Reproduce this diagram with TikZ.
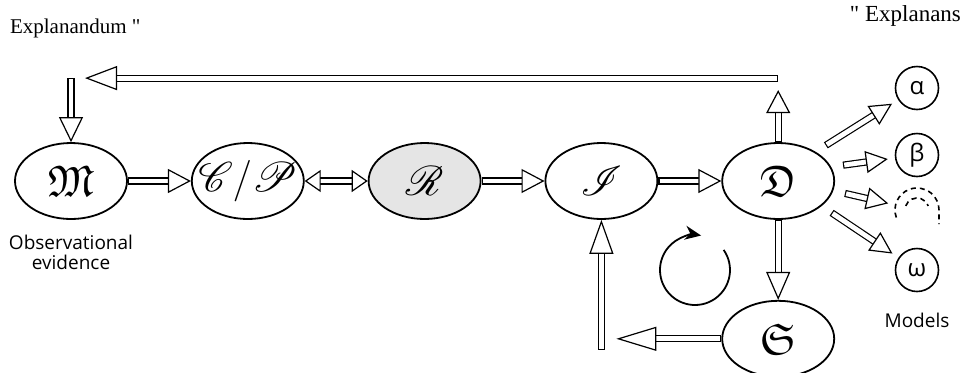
\documentclass[tikz,border=0pt]{standalone}
\usepackage{amsmath,amssymb}
\usepackage{mathrsfs}
\usepackage{fontspec}
\setmainfont{Liberation Serif}
\setsansfont{Open Sans}
\usepackage{tikz}
\usetikzlibrary{positioning,shapes.geometric,arrows.meta,calc}

\begin{document}
\begin{tikzpicture}[
  x=0.5pt, y=0.5pt,
  every node/.style={font=\fontsize{10.5}{12}\selectfont},
  ell/.style={draw, ellipse, line width=0.9pt,
              minimum width=56pt, minimum height=38pt, inner sep=0pt,
              font=\fontsize{22}{22}\selectfont},
  grk/.style={draw, circle, line width=0.8pt, minimum size=21.5pt,
              inner sep=0pt, outer sep=4pt,
              font=\sffamily\fontsize{12}{12}\selectfont},
  lbl/.style={font=\sffamily\fontsize{9.5}{10}\selectfont, align=center},
  hol/.style={draw=white, line width=2.4pt, shorten <=0.6pt,
              -{Triangle[color=black, fill=white, line width=0.6pt 0 0,
                         length=#1, width=12pt]},
              preaction={draw=black, line width=3.6pt, -,
                         shorten <=0pt, shorten >=#1-1pt}},
  hol/.default=11.5pt,
  holf/.style={draw=white, line width=2.4pt, shorten <=6.6pt,
              -{Triangle[color=black, fill=white, line width=0.6pt 0 0,
                         length=11pt, width=11pt]},
              preaction={draw=black, line width=3.6pt, -,
                         shorten <=6pt, shorten >=10pt}},
  hol2/.style={draw=white, line width=2.4pt,
              {Triangle[color=black, fill=white, line width=0.6pt 0 0,
                        length=#1, width=11pt]}-{Triangle[color=black,
                        fill=white, line width=0.6pt 0 0,
                        length=#1, width=11pt]},
              preaction={draw=black, line width=3.6pt, -,
                         shorten <=#1-1pt, shorten >=#1-1pt}},
  hol2/.default=8pt,
  cyc/.style={line width=0.9pt, -{Stealth[length=8pt, width=7pt]}},
  brk/.style={line width=0.8pt, dash pattern=on 2.5pt off 2pt},
  node distance=31.5pt
]
\useasboundingbox (0,0) rectangle (966,372);

%% main chain
\node[ell] (M) at (71,191) {$\mathfrak{M}$};
\node[ell, right=of M] (CP) {\makebox[30pt]{$\mathscr{C}/\mathscr{P}$}};
\node[ell, right=of CP, fill=gray!20] (R) {$\mathscr{R}$};
\node[ell, right=of R] (I) {$\mathscr{I}$};
\node[ell, right=of I] (D) {$\mathfrak{D}$};
\node[ell, below=40pt of D] (S) {$\mathfrak{S}$};

%% models
\node[grk] (al) at (917,284) {α};
\node[grk] (be) at (917,217) {β};
\node[grk, draw=none] (dots) at (917,162) {};
\node[grk] (om) at (917,102) {ω};

\node[lbl, below=4pt of M] (obs) {Observational\\evidence};
\node[lbl, below=3pt of om] (mdl) {Models};
\node[anchor=west] (expd) at (3,344) {Explanandum \textquotedbl};
\node[anchor=east, font=\fontsize{11.5}{12}\selectfont] (expn) at (968,356)
     {\textquotedbl\ Explanans};

%% free ends
\coordinate[above=26pt of D] (tU);
\coordinate[above=32pt of D] (tR);
\coordinate[above=32pt of M] (tM);
\coordinate[right=7pt of tM] (tL);
\coordinate (sL) at ($(I |- S)+(15,0)$);
\coordinate (sB) at ($(I |- S)+(0,-11)$);
\coordinate (rot) at (695,102);

\draw[hol] (M) -- (CP);
\draw[hol2] (CP) -- (R);
\draw[hol] (R) -- (I);
\draw[hol] (I) -- (D);
\draw[hol] (D) -- (tU);
\draw[hol=16pt] (tR) -- (tL);
\draw[hol=12.5pt] (tM) -- (M);
\draw[hol=14pt] (D) -- (S);
\draw[hol=20pt] (S) -- (sL);
\draw[hol=17pt] (sB) -- (I);

\draw[holf] (D.38) -- (al);
\draw[holf] (D.15) -- (be);
\draw[holf] (D.-10) -- (dots);
\draw[holf] (D.-30) -- (om);

%% unfinished model
\draw[brk] (dots.center) ++(200:22) arc[start angle=200, end angle=0, radius=22] -- ++(0,-14);
\draw[brk] (dots.center) ++(160:12) arc[start angle=160, end angle=20, radius=12];

%% iteration
\draw[cyc] (rot) ++(35:35) arc[start angle=35, end angle=-280, radius=35];

\end{tikzpicture}
\end{document}
